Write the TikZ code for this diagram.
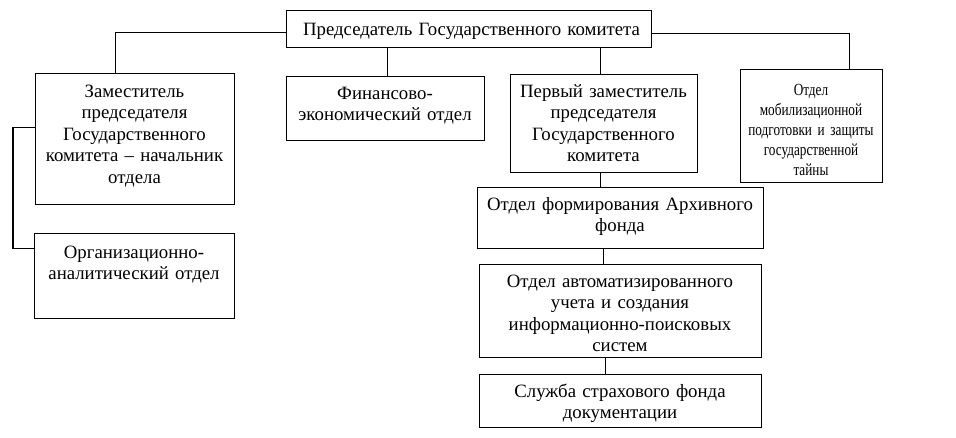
\documentclass[tikz,border=0pt]{standalone}
\usepackage{fontspec}
\setmainfont{Liberation Serif}
\newfontfamily\condfont[FakeStretch=0.78]{Liberation Serif}
\begin{document}
\begin{tikzpicture}[x=1pt,y=-1pt,
  box/.style={draw, line width=1.2pt, inner sep=0pt, anchor=north west},
  txt/.style={inner sep=0pt, anchor=base, align=center, text width=300pt, font=\fontsize{18.8pt}{21.5pt}\selectfont},
  conn/.style={line width=1.2pt}]
\useasboundingbox (0,0) rectangle (956,437);
% boxes
\node[box, minimum width=365pt, minimum height=37pt] (top) at (286,10) {};
\node[box, minimum width=199pt, minimum height=131pt] (zam) at (35,73) {};
\node[box, minimum width=198pt, minimum height=64pt] (fin) at (286,76) {};
\node[box, minimum width=187pt, minimum height=98pt] (dep) at (510,74) {};
\node[box, minimum width=142pt, minimum height=113pt] (mob) at (740,69) {};
\node[box, minimum width=286pt, minimum height=61pt] (arch) at (477,187) {};
\node[box, minimum width=282pt, minimum height=93pt] (auto) at (479,264) {};
\node[box, minimum width=282pt, minimum height=53pt] (serv) at (479,374) {};
\node[box, minimum width=200pt, minimum height=85pt] (org) at (34,233) {};
% texts
\node[txt, text width=400pt] (ttop) at (471.5,35) {Председатель Государственного комитета};
\node[txt] (tzam) at (134.5,97) {Заместитель\\председателя\\Государственного\\комитета – начальник\\отдела};
\node[txt] (tfin) at (385,99) {Финансово-\\экономический отдел};
\node[txt] (tdep) at (603.5,97) {Первый заместитель\\председателя\\Государственного\\комитета};
\node[txt, font=\condfont\fontsize{17pt}{20pt}\selectfont] (tmob) at (811,95) {Отдел\\мобилизационной\\подготовки и защиты\\государственной\\тайны};
\node[txt] (tarch) at (620,210) {Отдел формирования Архивного\\фонда};
\node[txt] (tauto) at (620,287) {Отдел автоматизированного\\учета и создания\\информационно-поисковых\\систем};
\node[txt] (tserv) at (620,397) {Служба страхового фонда\\документации};
\node[txt] (torg) at (134,258) {Организационно-\\аналитический отдел};
% connectors
\draw[conn] ([yshift=-3.5pt]top.west) -| ([xshift=-19.5pt]zam.north);
\draw[conn] ([yshift=-4.5pt]top.east) -| ([xshift=38pt]mob.north);
\draw[conn] ([xshift=2pt]fin.north) -- ([xshift=2pt]fin.north |- top.south);
\draw[conn] ([xshift=-3.5pt]dep.north) -- ([xshift=-3.5pt]dep.north |- top.south);
\draw[conn] ([xshift=-3.5pt]dep.south) -- ([xshift=-3.5pt]dep.south |- arch.north);
\draw[conn] ([xshift=-17pt]auto.north) -- ([xshift=-17pt]auto.north |- arch.south);
\draw[conn] ([xshift=-15pt]serv.north) -- ([xshift=-15pt]serv.north |- auto.south);
\draw[conn] ([yshift=11.5pt]zam.west) -- ++(-22pt,0) |- ([yshift=27.5pt]org.west);
\end{tikzpicture}
\end{document}
